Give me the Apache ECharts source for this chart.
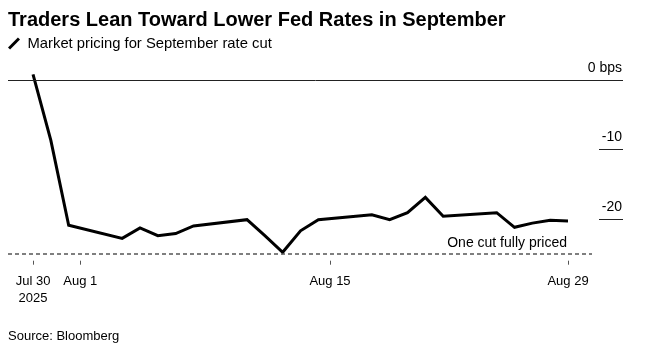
<!DOCTYPE html>
<html>
<head>
<meta charset="utf-8">
<script src="https://cdn.jsdelivr.net/npm/echarts@6/dist/echarts.min.js"></script>
<style>
html,body{margin:0;padding:0;background:#fff;}
#chart{width:647px;height:347px;}
</style>
</head>
<body>
<div id="chart"></div>
<script>
// ---- data ----
const dates = ['2025-07-30','2025-07-31','2025-08-01','2025-08-04','2025-08-05','2025-08-06','2025-08-07','2025-08-08',
  '2025-08-11','2025-08-12','2025-08-13','2025-08-14','2025-08-15','2025-08-18','2025-08-19','2025-08-20','2025-08-21','2025-08-22',
  '2025-08-25','2025-08-26','2025-08-27','2025-08-28','2025-08-29'];
const pricing = [0.8, -8.7, -20.9, -22.8, -21.3, -22.4, -22.1, -21.0,
  -20.1, -22.4, -24.8, -21.7, -20.1, -19.4, -20.1, -19.1, -16.9, -19.6,
  -19.1, -21.2, -20.6, -20.2, -20.3];
const xTickDates = ['2025-07-30T00:00', '2025-08-01T15:40', '2025-08-15T15:40', '2025-08-29T00:00'];
const xTickLabels = ['Jul 30\n2025', 'Aug 1', 'Aug 15', 'Aug 29'];
const yTicks = [0, -10, -20];
const yTickLabels = ['0 bps', '-10', '-20'];
const oneCut = -25;
const xDomain = ['2025-07-28T14:20', '2025-09-01T02:00'];
const dashEnd = '2025-08-30T08:20';

const DAY = 86400000;
function ts(s) { // parse as UTC
  const m = s.match(/(\d+)-(\d+)-(\d+)(?:T(\d+):(\d+))?/);
  return Date.UTC(+m[1], +m[2] - 1, +m[3], m[4] ? +m[4] : 0, m[5] ? +m[5] : 0);
}
const base = ts(dates[0]);
const dayNum = s => Math.round((ts(s) - base) / DAY * 10000) / 10000;
const seriesData = dates.map((d, i) => [dayNum(d), pricing[i]]);
const xTickValues = xTickDates.map(dayNum);
const labelFor = v => {
  for (let i = 0; i < xTickValues.length; i++) if (Math.abs(v - xTickValues[i]) < 1e-3) return xTickLabels[i];
  return '';
};
const yLabelFor = v => {
  for (let i = 0; i < yTicks.length; i++) if (Math.abs(v - yTicks[i]) < 1e-6) return yTickLabels[i];
  return '';
};

const FONT = 'Liberation Sans, Arial, sans-serif';
const chart = echarts.init(document.getElementById('chart'), null, {renderer: 'canvas'});
chart.setOption({
  animation: false,
  backgroundColor: '#fff',
  textStyle: {fontFamily: FONT},
  title: [
    {text: 'Traders Lean Toward Lower Fed Rates in September', left: 3, top: 5,
     textStyle: {fontSize: 20, fontWeight: 'bold', color: '#000', fontFamily: FONT}},
    {text: 'Source: Bloomberg', left: 3, top: 325,
     textStyle: {fontSize: 13, fontWeight: 'normal', color: '#000', fontFamily: FONT}}
  ],
  legend: {
    left: 8, top: 36, padding: 0, itemWidth: 13, itemHeight: 12, itemGap: 10,
    icon: 'path://M0,10.4 L10.4,0 L12.6,2.2 L2.2,12.6 Z',
    itemStyle: {borderWidth: 0},
    textStyle: {fontSize: 14.8, color: '#000', fontFamily: FONT, padding: [0, 0, 0, 2]},
    data: ['Market pricing for September rate cut']
  },
  grid: {left: 8, right: 24, top: 80, bottom: 93.3, containLabel: false},
  xAxis: {
    type: 'value',
    min: dayNum(xDomain[0]), max: dayNum(xDomain[1]),
    offset: 7,
    axisLine: {show: false, onZero: false},
    splitLine: {show: false},
    axisTick: {show: true, length: 4, customValues: xTickValues, lineStyle: {color: '#555', width: 1}},
    axisLabel: {
      customValues: xTickValues, margin: 12,
      fontSize: 13, lineHeight: 17, color: '#000', fontFamily: FONT,
      formatter: v => labelFor(v)
    }
  },
  yAxis: {
    type: 'value', position: 'right', min: oneCut, max: 0,
    axisLine: {show: false, onZero: false},
    splitLine: {show: false},
    axisTick: {show: true, inside: true, length: 24, customValues: yTicks, lineStyle: {color: '#222', width: 1}},
    axisLabel: {
      inside: true, customValues: yTicks, margin: 1,
      fontSize: 14, color: '#000', fontFamily: FONT,
      verticalAlign: 'bottom', lineHeight: 24,
      formatter: v => yLabelFor(v)
    }
  },
  series: [{
    name: 'Market pricing for September rate cut',
    type: 'line',
    data: seriesData,
    symbol: 'none',
    clip: false,
    color: '#000',
    lineStyle: {color: '#000', width: 3, join: 'miter'},
    markLine: {
      silent: true, symbol: 'none', animation: false,
      data: [
        {yAxis: 0, lineStyle: {color: '#222', width: 1, type: 'solid'}, label: {show: false}},
        [
          {coord: [dayNum(xDomain[0]), oneCut], lineStyle: {color: '#555', width: 1.5, type: [4, 3]},
           label: {show: true, position: 'insideEndTop', formatter: 'One cut fully priced',
                   fontSize: 14, color: '#000', fontFamily: FONT, distance: [25, 4]}},
          {coord: [dayNum(dashEnd), oneCut]}
        ]
      ]
    }
  }]
});
</script>
</body>
</html>
